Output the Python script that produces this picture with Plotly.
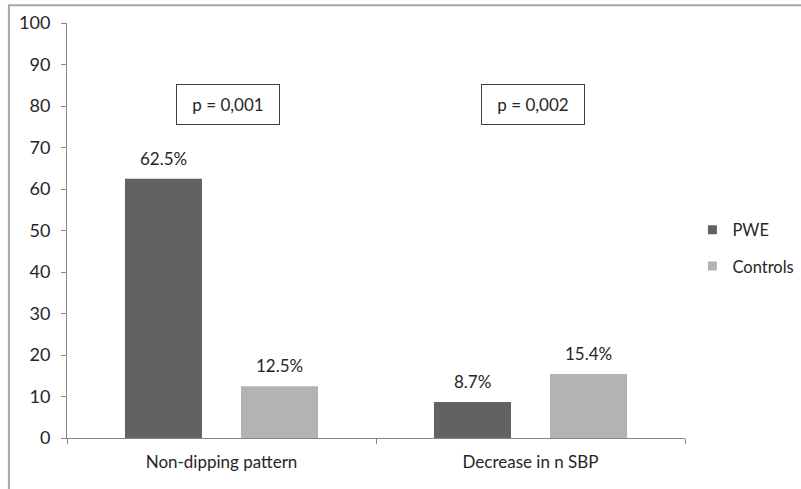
import plotly.graph_objects as go

categories = ["Non-dipping pattern", "Decrease in n SBP"]
pwe_values = [62.5, 8.7]
control_values = [12.5, 15.4]
p_values = ["p = 0,001", "p = 0,002"]
y_ticks = list(range(0, 101, 10))

FONT = "Lato, Carlito, Calibri, sans-serif"
TEXT = "#262626"
AXIS = "#868686"
PWE_COLOR = "#626262"
CTRL_COLOR = "#b3b3b3"

fig = go.Figure()
fig.add_trace(go.Bar(
    name="PWE", x=categories, y=pwe_values,
    marker=dict(color=PWE_COLOR, line=dict(width=0)),
    showlegend=False, offsetgroup="pwe",
))
fig.add_trace(go.Bar(
    name="Controls", x=categories, y=control_values,
    marker=dict(color=CTRL_COLOR, line=dict(width=0)),
    showlegend=False, offsetgroup="ctrl",
))

# legend entries with small square swatches
for name, color, grp in [("PWE", PWE_COLOR, "a"), ("Controls", CTRL_COLOR, "b")]:
    fig.add_trace(go.Scatter(
        x=[None], y=[None], mode="markers", name=name, legendgroup=grp,
        marker=dict(symbol="square", size=9, color=color),
    ))

# value labels above bars (each bar sits half a slot left/right of the category)
slot = (1 - 0.249) / 2
for vals, off in [(pwe_values, -slot / 2), (control_values, slot / 2)]:
    for i, v in enumerate(vals):
        fig.add_annotation(
            x=i + off, y=v, xref="x", yref="y", text=f"{v}%",
            showarrow=False, yanchor="bottom", yshift=8,
            font=dict(size=17, color=TEXT, family=FONT),
        )

# p-value boxes above each category
box_shift = [6, 2]
for i, label in enumerate(p_values):
    fig.add_annotation(
        x=i, y=80.4, xref="x", yref="y", text=label, showarrow=False,
        xshift=box_shift[i],
        font=dict(size=17, color=TEXT, family=FONT),
        bordercolor="#404040", borderwidth=1, borderpad=0,
        bgcolor="white", width=102, height=39,
    )

# outer chart frame
fig.add_shape(type="rect", xref="paper", yref="paper",
              x0=-0.094, x1=1.4, y0=-0.2, y1=1.043,
              line=dict(color="#a8a8a8", width=2), layer="below")

fig.update_layout(
    width=801, height=489,
    margin=dict(l=67, r=116, t=23, b=51, autoexpand=False),
    paper_bgcolor="white", plot_bgcolor="white",
    barmode="group", bargap=0.249, bargroupgap=0.336,
    font=dict(family=FONT, size=17, color=TEXT),
    showlegend=True,
    legend=dict(x=1.012, y=0.458, xanchor="left", yanchor="middle",
                font=dict(size=16.5, color=TEXT), tracegroupgap=12,
                itemwidth=30, bgcolor="rgba(0,0,0,0)"),
)
fig.update_xaxes(
    showline=True, linecolor=AXIS, linewidth=1,
    ticks="outside", ticklen=5, tickcolor=AXIS, tickson="boundaries",
    showgrid=False, tickfont=dict(size=17, color=TEXT),
    ticklabelstandoff=9, range=[-0.5, 1.5],
)
fig.update_yaxes(
    range=[0, 100], tickvals=y_ticks, showline=True, linecolor=AXIS,
    linewidth=1, ticks="outside", ticklen=5, tickcolor=AXIS,
    showgrid=False, zeroline=False, tickfont=dict(size=18, color=TEXT),
    ticklabelstandoff=7,
)

fig.write_html("out.html")
